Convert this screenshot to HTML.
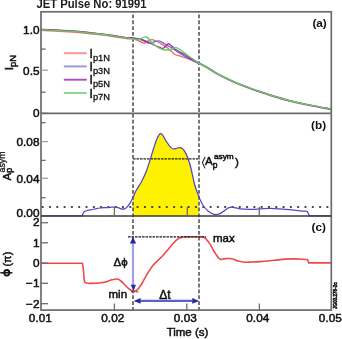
<!DOCTYPE html>
<html><head><meta charset="utf-8"><style>
html,body{margin:0;padding:0;background:#fff;width:342px;height:339px;overflow:hidden}
svg{display:block;will-change:transform;filter:blur(0.3px)}
text{font-family:"Liberation Sans", sans-serif}
</style></head><body>
<svg width="342" height="339" viewBox="0 0 342 339">
<rect width="342" height="339" fill="#ffffff"/>
<path d="M133.00,197.40 C133.50,196.30 134.63,193.32 136.00,190.80 C137.37,188.28 139.53,185.43 141.20,182.30 C142.87,179.17 144.60,175.47 146.00,172.00 C147.40,168.53 148.28,165.58 149.60,161.50 C150.92,157.42 152.67,151.28 153.90,147.50 C155.13,143.72 155.98,141.08 157.00,138.80 C158.02,136.52 159.08,134.47 160.00,133.80 C160.92,133.13 161.65,133.85 162.50,134.80 C163.35,135.75 164.10,137.88 165.10,139.50 C166.10,141.12 167.52,143.15 168.50,144.50 C169.48,145.85 170.18,146.85 171.00,147.60 C171.82,148.35 172.48,148.88 173.40,149.00 C174.32,149.12 175.40,148.53 176.50,148.30 C177.60,148.07 179.00,147.53 180.00,147.60 C181.00,147.67 181.67,147.98 182.50,148.70 C183.33,149.42 184.08,150.27 185.00,151.90 C185.92,153.53 187.02,155.82 188.00,158.50 C188.98,161.18 189.80,163.67 190.90,168.00 C192.00,172.33 193.28,179.77 194.60,184.50 C195.92,189.23 198.10,194.42 198.80,196.40 L198.8,215.9 L133,215.9 Z" fill="#fff200" stroke="none"/>
<line x1="41.5" y1="207" x2="331" y2="207" stroke="#3a3a3a" stroke-width="2.1" stroke-linecap="round" stroke-dasharray="0.2,7.1" stroke-dashoffset="-1.1"/>
<line x1="133" y1="158.8" x2="200" y2="158.8" stroke="#222" stroke-width="1.3" stroke-dasharray="2.6,0.9"/>
<line x1="133.0" y1="11.8" x2="133.0" y2="310.1" stroke="#555" stroke-width="1.6" stroke-dasharray="3.8,2.05" stroke-dashoffset="3.15"/>
<line x1="199.0" y1="11.8" x2="199.0" y2="310.1" stroke="#555" stroke-width="1.6" stroke-dasharray="3.8,2.05" stroke-dashoffset="3.15"/>
<path d="M41.00,30.40 C43.33,30.50 50.33,30.77 55.00,31.00 C59.67,31.23 64.17,31.45 69.00,31.80 C73.83,32.15 79.08,32.62 84.00,33.10 C88.92,33.58 93.67,34.12 98.50,34.70 C103.33,35.28 108.13,35.92 113.00,36.60 C117.87,37.28 124.37,38.43 127.70,38.80 C131.03,39.17 131.28,38.52 133.00,38.80 C134.72,39.08 136.17,39.77 138.00,40.50 C139.83,41.23 142.33,43.08 144.00,43.20 C145.67,43.32 146.73,41.80 148.00,41.20 C149.27,40.60 150.27,39.63 151.60,39.60 C152.93,39.57 154.60,40.40 156.00,41.00 C157.40,41.60 158.50,42.35 160.00,43.20 C161.50,44.05 163.33,44.97 165.00,46.10 C166.67,47.23 168.33,48.60 170.00,50.00 C171.67,51.40 173.33,53.50 175.00,54.50 C176.67,55.50 177.50,55.17 180.00,56.00 C182.50,56.83 186.83,58.23 190.00,59.50 C193.17,60.77 196.47,62.38 199.00,63.60 C201.53,64.82 202.45,65.22 205.20,66.80 C207.95,68.38 212.08,71.17 215.50,73.10 C218.92,75.03 222.30,76.73 225.70,78.40 C229.10,80.07 232.48,81.63 235.90,83.10 C239.32,84.57 242.78,85.90 246.20,87.20 C249.62,88.50 252.10,89.42 256.40,90.90 C260.70,92.38 266.57,94.42 272.00,96.10 C277.43,97.78 282.67,99.40 289.00,101.00 C295.33,102.60 303.00,104.28 310.00,105.70 C317.00,107.12 327.50,108.87 331.00,109.50" fill="none" stroke="#f06a6a" stroke-width="1.35" stroke-linejoin="round"/>
<path d="M41.00,29.50 C43.33,29.60 50.33,29.87 55.00,30.10 C59.67,30.33 64.17,30.55 69.00,30.90 C73.83,31.25 79.08,31.72 84.00,32.20 C88.92,32.68 93.67,33.22 98.50,33.80 C103.33,34.38 108.13,35.02 113.00,35.70 C117.87,36.38 124.37,37.47 127.70,37.90 C131.03,38.33 130.95,38.08 133.00,38.30 C135.05,38.52 137.33,38.38 140.00,39.20 C142.67,40.02 146.67,42.73 149.00,43.20 C151.33,43.67 152.33,42.38 154.00,42.00 C155.67,41.62 157.17,40.60 159.00,40.90 C160.83,41.20 162.33,42.25 165.00,43.80 C167.67,45.35 171.67,48.08 175.00,50.20 C178.33,52.32 182.17,54.87 185.00,56.50 C187.83,58.13 189.67,58.87 192.00,60.00 C194.33,61.13 196.80,62.22 199.00,63.30 C201.20,64.38 202.45,64.92 205.20,66.50 C207.95,68.08 212.08,70.87 215.50,72.80 C218.92,74.73 222.30,76.43 225.70,78.10 C229.10,79.77 232.48,81.33 235.90,82.80 C239.32,84.27 242.78,85.60 246.20,86.90 C249.62,88.20 252.10,89.12 256.40,90.60 C260.70,92.08 266.57,94.12 272.00,95.80 C277.43,97.48 282.67,99.10 289.00,100.70 C295.33,102.30 303.00,103.98 310.00,105.40 C317.00,106.82 327.50,108.57 331.00,109.20" fill="none" stroke="#6f6fd6" stroke-width="1.35" stroke-linejoin="round"/>
<path d="M41.00,29.30 C43.33,29.40 50.33,29.67 55.00,29.90 C59.67,30.13 64.17,30.35 69.00,30.70 C73.83,31.05 79.08,31.52 84.00,32.00 C88.92,32.48 93.67,33.02 98.50,33.60 C103.33,34.18 108.13,34.82 113.00,35.50 C117.87,36.18 124.37,37.32 127.70,37.70 C131.03,38.08 130.45,37.42 133.00,37.80 C135.55,38.18 140.17,39.13 143.00,40.00 C145.83,40.87 148.00,42.08 150.00,43.00 C152.00,43.92 153.33,44.75 155.00,45.50 C156.67,46.25 158.67,47.03 160.00,47.50 C161.33,47.97 161.83,48.72 163.00,48.30 C164.17,47.88 166.00,45.75 167.00,45.00 C168.00,44.25 167.67,43.13 169.00,43.80 C170.33,44.47 172.33,47.13 175.00,49.00 C177.67,50.87 182.17,53.25 185.00,55.00 C187.83,56.75 189.67,58.17 192.00,59.50 C194.33,60.83 196.80,61.88 199.00,63.00 C201.20,64.12 202.45,64.62 205.20,66.20 C207.95,67.78 212.08,70.57 215.50,72.50 C218.92,74.43 222.30,76.13 225.70,77.80 C229.10,79.47 232.48,81.03 235.90,82.50 C239.32,83.97 242.78,85.30 246.20,86.60 C249.62,87.90 252.10,88.82 256.40,90.30 C260.70,91.78 266.57,93.82 272.00,95.50 C277.43,97.18 282.67,98.80 289.00,100.40 C295.33,102.00 303.00,103.68 310.00,105.10 C317.00,106.52 327.50,108.27 331.00,108.90" fill="none" stroke="#9a2fa6" stroke-width="1.35" stroke-linejoin="round"/>
<path d="M41.00,29.70 C43.33,29.80 50.33,30.07 55.00,30.30 C59.67,30.53 64.17,30.75 69.00,31.10 C73.83,31.45 79.08,31.92 84.00,32.40 C88.92,32.88 93.67,33.42 98.50,34.00 C103.33,34.58 108.13,35.22 113.00,35.90 C117.87,36.58 124.37,37.58 127.70,38.10 C131.03,38.62 131.12,38.77 133.00,39.00 C134.88,39.23 136.77,39.83 139.00,39.50 C141.23,39.17 144.00,36.22 146.40,37.00 C148.80,37.78 151.07,42.27 153.40,44.20 C155.73,46.13 158.47,47.63 160.40,48.60 C162.33,49.57 163.23,49.85 165.00,50.00 C166.77,50.15 169.00,49.85 171.00,49.50 C173.00,49.15 174.17,46.90 177.00,47.90 C179.83,48.90 184.33,52.97 188.00,55.50 C191.67,58.03 196.13,61.30 199.00,63.10 C201.87,64.90 202.45,64.72 205.20,66.30 C207.95,67.88 212.08,70.67 215.50,72.60 C218.92,74.53 222.30,76.23 225.70,77.90 C229.10,79.57 232.48,81.13 235.90,82.60 C239.32,84.07 242.78,85.40 246.20,86.70 C249.62,88.00 252.10,88.92 256.40,90.40 C260.70,91.88 266.57,93.92 272.00,95.60 C277.43,97.28 282.67,98.90 289.00,100.50 C295.33,102.10 303.00,103.78 310.00,105.20 C317.00,106.62 327.50,108.37 331.00,109.00" fill="none" stroke="#5fcf5f" stroke-width="1.35" stroke-linejoin="round"/>
<path d="M41.00,215.90 L82.30,215.90 L82.30,215.90 C82.45,215.45 82.83,213.93 83.20,213.20 C83.57,212.47 83.78,211.95 84.50,211.50 C85.22,211.05 86.12,210.83 87.50,210.50 C88.88,210.17 91.33,209.82 92.80,209.50 C94.27,209.18 95.10,208.85 96.30,208.60 C97.50,208.35 98.55,208.17 100.00,208.00 C101.45,207.83 103.33,207.72 105.00,207.60 C106.67,207.48 108.33,207.38 110.00,207.30 C111.67,207.22 113.67,207.05 115.00,207.10 C116.33,207.15 117.08,207.35 118.00,207.60 C118.92,207.85 119.67,208.35 120.50,208.60 C121.33,208.85 122.25,209.10 123.00,209.10 C123.75,209.10 124.33,208.92 125.00,208.60 C125.67,208.28 126.17,208.10 127.00,207.20 C127.83,206.30 129.00,204.83 130.00,203.20 C131.00,201.57 132.00,199.47 133.00,197.40 C134.00,195.33 134.63,193.32 136.00,190.80 C137.37,188.28 139.53,185.43 141.20,182.30 C142.87,179.17 144.60,175.47 146.00,172.00 C147.40,168.53 148.28,165.58 149.60,161.50 C150.92,157.42 152.67,151.28 153.90,147.50 C155.13,143.72 155.98,141.08 157.00,138.80 C158.02,136.52 159.08,134.47 160.00,133.80 C160.92,133.13 161.65,133.85 162.50,134.80 C163.35,135.75 164.10,137.88 165.10,139.50 C166.10,141.12 167.52,143.15 168.50,144.50 C169.48,145.85 170.18,146.85 171.00,147.60 C171.82,148.35 172.48,148.88 173.40,149.00 C174.32,149.12 175.40,148.53 176.50,148.30 C177.60,148.07 179.00,147.53 180.00,147.60 C181.00,147.67 181.67,147.98 182.50,148.70 C183.33,149.42 184.08,150.27 185.00,151.90 C185.92,153.53 187.02,155.82 188.00,158.50 C188.98,161.18 189.80,163.67 190.90,168.00 C192.00,172.33 193.28,179.77 194.60,184.50 C195.92,189.23 197.73,193.57 198.80,196.40 C199.87,199.23 200.22,199.90 201.00,201.50 C201.78,203.10 202.33,204.42 203.50,206.00 C204.67,207.58 206.25,209.60 208.00,211.00 C209.75,212.40 212.00,213.97 214.00,214.40 C216.00,214.83 218.00,214.42 220.00,213.60 C222.00,212.78 224.50,210.50 226.00,209.50 C227.50,208.50 227.83,207.97 229.00,207.60 C230.17,207.23 231.17,207.10 233.00,207.30 C234.83,207.50 237.17,208.47 240.00,208.80 C242.83,209.13 246.67,209.28 250.00,209.30 C253.33,209.32 256.67,209.05 260.00,208.90 C263.33,208.75 266.67,208.40 270.00,208.40 C273.33,208.40 276.67,208.68 280.00,208.90 C283.33,209.12 286.67,209.38 290.00,209.70 C293.33,210.02 297.17,210.53 300.00,210.80 C302.83,211.07 305.83,211.22 307.00,211.30 L307.00,211.30 C307.22,211.67 307.88,212.73 308.30,213.50 C308.72,214.27 309.30,215.50 309.50,215.90 L309.50,215.90 L331.00,215.90" fill="none" stroke="#5546c0" stroke-width="1.25" stroke-linejoin="round"/>
<path d="M41.00,263.30 L82.40,263.30 L82.40,263.30 C82.57,264.42 83.08,267.13 83.40,270.00 C83.72,272.87 83.95,278.40 84.30,280.50 C84.65,282.60 84.88,282.13 85.50,282.60 C86.12,283.07 86.42,283.20 88.00,283.30 C89.58,283.40 92.83,283.28 95.00,283.20 C97.17,283.12 98.95,283.10 101.00,282.80 C103.05,282.50 105.47,281.90 107.30,281.40 C109.13,280.90 110.30,280.20 112.00,279.80 C113.70,279.40 116.00,278.80 117.50,279.00 C119.00,279.20 119.78,280.03 121.00,281.00 C122.22,281.97 123.63,283.63 124.80,284.80 C125.97,285.97 126.97,287.10 128.00,288.00 C129.03,288.90 129.97,289.67 131.00,290.20 C132.03,290.73 133.20,291.20 134.20,291.20 C135.20,291.20 136.03,290.98 137.00,290.20 C137.97,289.42 139.00,287.93 140.00,286.50 C141.00,285.07 141.77,283.73 143.00,281.60 C144.23,279.47 145.78,276.35 147.40,273.70 C149.02,271.05 150.93,267.92 152.70,265.70 C154.47,263.48 156.22,262.18 158.00,260.40 C159.78,258.62 161.62,256.93 163.40,255.00 C165.18,253.07 167.08,250.72 168.70,248.80 C170.32,246.88 171.62,245.12 173.10,243.50 C174.58,241.88 176.12,240.15 177.60,239.10 C179.08,238.05 180.43,237.57 182.00,237.20 C183.57,236.83 184.83,236.97 187.00,236.90 C189.17,236.83 192.35,236.80 195.00,236.80 C197.65,236.80 201.07,236.53 202.90,236.90 C204.73,237.27 204.78,237.75 206.00,239.00 C207.22,240.25 209.03,242.65 210.20,244.40 C211.37,246.15 212.03,247.83 213.00,249.50 C213.97,251.17 215.08,252.98 216.00,254.40 C216.92,255.82 217.75,257.17 218.50,258.00 C219.25,258.83 219.75,259.23 220.50,259.40 C221.25,259.57 222.03,259.13 223.00,259.00 C223.97,258.87 225.13,258.68 226.30,258.60 C227.47,258.52 228.78,258.38 230.00,258.50 C231.22,258.62 232.27,258.88 233.60,259.30 C234.93,259.72 236.10,260.52 238.00,261.00 C239.90,261.48 242.67,262.03 245.00,262.20 C247.33,262.37 249.50,262.10 252.00,262.00 C254.50,261.90 257.33,261.77 260.00,261.60 C262.67,261.43 265.50,261.22 268.00,261.00 C270.50,260.78 272.17,260.62 275.00,260.30 C277.83,259.98 281.67,259.33 285.00,259.10 C288.33,258.87 292.00,258.88 295.00,258.90 C298.00,258.92 300.92,259.08 303.00,259.20 C305.08,259.32 306.75,259.53 307.50,259.60 L307.50,259.60 L308.70,262.90 L308.70,262.90 L331.30,262.90" fill="none" stroke="#f04848" stroke-width="1.6" stroke-linejoin="round"/>
<line x1="128" y1="236.9" x2="206" y2="236.9" stroke="#1a1a1a" stroke-width="1.3" stroke-dasharray="2.6,0.9"/>
<line x1="131" y1="291.8" x2="139" y2="291.8" stroke="#333" stroke-width="1.1" stroke-dasharray="1.6,0.9"/>
<line x1="133" y1="243" x2="133" y2="285.5" stroke="#a0a0e2" stroke-width="2.2"/>
<path d="M133,236.9 L129.8,243.6 L136.2,243.6 Z" fill="#2a2aa0"/>
<path d="M133.4,291.2 L130.8,284.8 L136,284.8 Z" fill="#2a2aa0"/>
<line x1="140" y1="300.8" x2="192" y2="300.8" stroke="#6060c8" stroke-width="2.2"/>
<path d="M133.6,300.9 L140.6,298.1 L140.6,303.7 Z" fill="#2a2aa0"/>
<path d="M199.2,300.9 L192.2,298.1 L192.2,303.7 Z" fill="#2a2aa0"/>
<g stroke="#6b6b6b" stroke-width="1.7" fill="none">
<rect x="41.0" y="11.8" width="290.3" height="298.3"/>
<line x1="41.0" y1="113.4" x2="331.3" y2="113.4"/>
</g>
<line x1="41.0" y1="216.1" x2="331.3" y2="216.1" stroke="#3a3a3a" stroke-width="1.5"/>
<g stroke="#6b6b6b" stroke-width="1.3">
<line x1="41.0" y1="49.1" x2="45.6" y2="49.1"/>
<line x1="41.0" y1="70.2" x2="48.0" y2="70.2" stroke="#a2a2a2"/>
<line x1="41.0" y1="92.2" x2="45.6" y2="92.2"/>
<line x1="41.0" y1="113.4" x2="48.0" y2="113.4"/>
<line x1="41.0" y1="122.7" x2="45.6" y2="122.7"/>
<line x1="41.0" y1="141.6" x2="48.0" y2="141.6" stroke="#a2a2a2"/>
<line x1="41.0" y1="160.4" x2="45.6" y2="160.4"/>
<line x1="41.0" y1="178.3" x2="48.0" y2="178.3" stroke="#a2a2a2"/>
<line x1="41.0" y1="197.7" x2="45.6" y2="197.7"/>
<line x1="41.0" y1="222.7" x2="48.0" y2="222.7"/>
<line x1="41.0" y1="242.8" x2="48.0" y2="242.8"/>
<line x1="41.0" y1="263.1" x2="48.0" y2="263.1"/>
<line x1="41.0" y1="283.3" x2="48.0" y2="283.3"/>
<line x1="41.0" y1="303.7" x2="48.0" y2="303.7"/>
<line x1="114.4" y1="215.9" x2="114.4" y2="207"/>
<line x1="187.3" y1="215.9" x2="187.3" y2="207"/>
<line x1="259.3" y1="215.9" x2="259.3" y2="207"/>
<line x1="114.4" y1="310.1" x2="114.4" y2="303.5"/>
<line x1="186.8" y1="310.1" x2="186.8" y2="303.5"/>
<line x1="259.4" y1="310.1" x2="259.4" y2="303.5"/>
</g>
<g font-family='"Liberation Sans", sans-serif' fill="#111" stroke="#111" stroke-width="0.5">
<text x="36.4" y="8.4" font-size="12.3" text-anchor="start" font-weight="bold" stroke="none" fill="#1c1c1c" textLength="110.2" lengthAdjust="spacingAndGlyphs">JET Pulse No: 91991</text>
<text x="326.8" y="26.6" font-size="11.8" text-anchor="end" font-weight="bold" stroke="none">(a)</text>
<text x="326.2" y="129.0" font-size="11.8" text-anchor="end" font-weight="bold" stroke="none">(b)</text>
<text x="325.9" y="230.6" font-size="11.8" text-anchor="end" font-weight="bold" stroke="none">(c)</text>
<text x="39.5" y="34.3" font-size="11.8" text-anchor="end" font-weight="normal" >1.0</text>
<text x="39.5" y="75.39999999999999" font-size="11.8" text-anchor="end" font-weight="normal" >0.5</text>
<text x="39.5" y="117.1" font-size="11.8" text-anchor="end" font-weight="normal" >0</text>
<text x="39.5" y="145.9" font-size="11.8" text-anchor="end" font-weight="normal" >0.08</text>
<text x="39.5" y="182.6" font-size="11.8" text-anchor="end" font-weight="normal" >0.04</text>
<text x="39.5" y="216.79999999999998" font-size="11.8" text-anchor="end" font-weight="normal" >0.00</text>
<text x="39.5" y="226.29999999999998" font-size="11.8" text-anchor="end" font-weight="normal" >2</text>
<text x="39.5" y="246.9" font-size="11.8" text-anchor="end" font-weight="normal" >1</text>
<text x="39.5" y="267.20000000000005" font-size="11.8" text-anchor="end" font-weight="normal" >0</text>
<text x="39.5" y="287.40000000000003" font-size="11.8" text-anchor="end" font-weight="normal" >−1</text>
<text x="39.5" y="307.8" font-size="11.8" text-anchor="end" font-weight="normal" >−2</text>
<text x="40.3" y="321.9" font-size="11.8" text-anchor="middle" font-weight="normal" >0.01</text>
<text x="112.8" y="321.9" font-size="11.8" text-anchor="middle" font-weight="normal" >0.02</text>
<text x="185.29999999999998" y="321.9" font-size="11.8" text-anchor="middle" font-weight="normal" >0.03</text>
<text x="257.8" y="321.9" font-size="11.8" text-anchor="middle" font-weight="normal" >0.04</text>
<text x="330.3" y="321.9" font-size="11.8" text-anchor="middle" font-weight="normal" >0.05</text>
<text x="187.5" y="336.0" font-size="11.5" text-anchor="middle" font-weight="normal" >Time (s)</text>
<line x1="63.8" y1="53.2" x2="86.8" y2="53.2" stroke="#f49494" stroke-width="1.9"/>
<text x="89.6" y="57.800000000000004" font-size="12">I<tspan font-size="9.3" dy="2.7" stroke-width="0.3">p1N</tspan></text>
<line x1="63.8" y1="66.4" x2="86.8" y2="66.4" stroke="#9898d8" stroke-width="1.9"/>
<text x="89.6" y="71.0" font-size="12">I<tspan font-size="9.3" dy="2.7" stroke-width="0.3">p3N</tspan></text>
<line x1="63.8" y1="79.7" x2="86.8" y2="79.7" stroke="#aa50b6" stroke-width="1.9"/>
<text x="89.6" y="84.3" font-size="12">I<tspan font-size="9.3" dy="2.7" stroke-width="0.3">p5N</tspan></text>
<line x1="63.8" y1="93.0" x2="86.8" y2="93.0" stroke="#8ad48a" stroke-width="1.9"/>
<text x="89.6" y="97.6" font-size="12">I<tspan font-size="9.3" dy="2.7" stroke-width="0.3">p7N</tspan></text>
<path d="M205.2,156.9 L202.4,162.6 L205.0,168.4" fill="none" stroke="#222" stroke-width="1.1"/>
<text x="205.1" y="165.2" font-size="11.5" text-anchor="start" font-weight="normal" >A</text>
<text x="212.8" y="167.6" font-size="8.5" text-anchor="start" font-weight="normal" >p</text>
<text x="213.9" y="159.3" font-size="7.6" text-anchor="start" font-weight="normal" textLength="19.8" lengthAdjust="spacingAndGlyphs">asym</text>
<text x="235.0" y="166.3" font-size="11.6" text-anchor="start" font-weight="normal" >)</text>
<text x="113.6" y="266.3" font-size="11.5" text-anchor="start" font-weight="normal" >Δϕ</text>
<text x="108.5" y="298.3" font-size="11.5" text-anchor="start" font-weight="normal" >min</text>
<text x="213" y="241.8" font-size="11.5" text-anchor="start" font-weight="normal" >max</text>
<text x="159.2" y="298.8" font-size="12" text-anchor="start" font-weight="normal" >Δt</text>
<text transform="translate(12.6,70.2) rotate(-90)" font-size="11.8">I<tspan font-size="9.3" dy="3.3">pN</tspan></text>
<g transform="translate(11.2,180.6) rotate(-90)">
<text x="0" y="0" font-size="11.5" text-anchor="start" font-weight="normal" >A</text>
<text x="7.9" y="0.4" font-size="9" text-anchor="start" font-weight="normal" >p</text>
<text x="8.2" y="-6.0" font-size="9" text-anchor="start" font-weight="normal" stroke-width="0.25" textLength="21" lengthAdjust="spacingAndGlyphs">asym</text>
</g>
<line x1="0.3" y1="272.8" x2="12.4" y2="272.8" stroke="#111" stroke-width="1.5"/>
<ellipse cx="6.8" cy="272.8" rx="2.5" ry="2.8" fill="none" stroke="#111" stroke-width="1.8"/>
<text transform="translate(10.8,266.6) rotate(-90)" font-size="11">(π)</text>
<text transform="translate(336.8,309) rotate(-90)" font-size="4.6" font-weight="bold">JG03.276-2c</text>
</g>
</svg>
</body></html>
